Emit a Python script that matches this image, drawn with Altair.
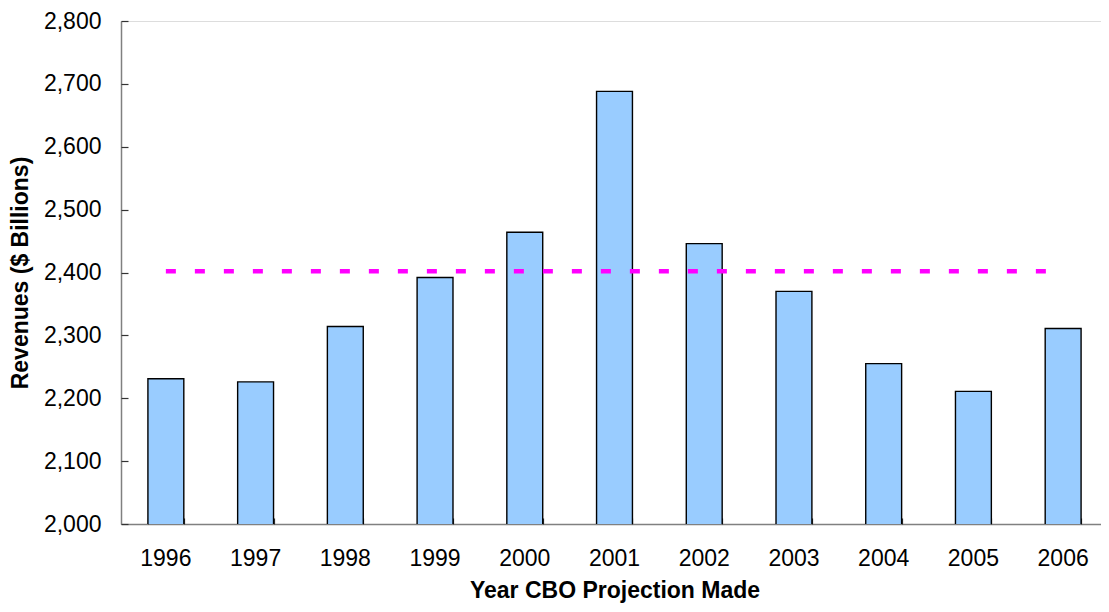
import altair as alt
import pandas as pd

years = ["1996", "1997", "1998", "1999", "2000", "2001", "2002", "2003", "2004", "2005", "2006"]
revenues = [2231, 2226, 2314, 2392, 2464, 2688, 2446, 2370, 2255, 2211, 2311]
avg_start = ["1996"]
avg_end = ["2006"]
avg_value = [2402]
y_ticks = [2000, 2100, 2200, 2300, 2400, 2500, 2600, 2700, 2800]

df = pd.DataFrame({"year": years, "revenue": revenues})
avg_df = pd.DataFrame({"start": avg_start, "end": avg_end, "value": avg_value})

W, H = 987, 503
FONT = "Liberation Sans"

x_scale = alt.Scale(domain=years, paddingInner=0.6, paddingOuter=0.3)
y_scale = alt.Scale(domain=[2000, 2800], nice=False, zero=False)

bars = alt.Chart(df).mark_bar(
    color="#99CCFF", stroke="#000000", strokeWidth=1.4, clip=True
).encode(
    x=alt.X("year:N", scale=x_scale, sort=years,
            axis=alt.Axis(orient="bottom", title="Year CBO Projection Made",
                          labelAngle=0, labelFontSize=23, labelFont=FONT, labelColor="#000",
                          labelPadding=23, ticks=False, tickSize=0,
                          domainColor="#808080", domainWidth=1.5,
                          titleFont=FONT, titleFontSize=23, titleFontWeight="bold",
                          titleColor="#000", titlePadding=9, grid=False)),
    y=alt.Y("revenue:Q", scale=y_scale,
            axis=alt.Axis(orient="left", title="Revenues ($ Billions)", values=y_ticks,
                          format=",.0f", labelFontSize=23, labelFont=FONT, labelColor="#000",
                          labelPadding=20, ticks=False, tickSize=0,
                          domainColor="#808080", domainWidth=1.5,
                          titleFont=FONT, titleFontSize=23, titleFontWeight="bold",
                          titleColor="#000", titlePadding=11, grid=False)),
)

tick_layer = alt.Chart(df).mark_bar(opacity=0, clip=True).encode(
    x=alt.X("year:N", scale=x_scale, sort=years,
            axis=alt.Axis(orient="top", offset=-H, labels=False, title=None, domain=False,
                          ticks=True, tickSize=6, tickColor="#333333", tickWidth=1.2,
                          tickBand="extent", grid=False)),
    y=alt.Y("revenue:Q", scale=y_scale,
            axis=alt.Axis(orient="right", offset=-W, labels=False, title=None, domain=False,
                          values=y_ticks, ticks=True, tickSize=7, tickColor="#333333",
                          tickWidth=1.2, grid=False)),
)

avg_rule = alt.Chart(avg_df).mark_rule(
    color="#FF00FF", strokeWidth=4.5, strokeDash=[10, 19]
).encode(
    x=alt.X("start:N", scale=x_scale, sort=years, axis=None),
    x2="end:N",
    y=alt.Y("value:Q", scale=y_scale, axis=None),
)

chart = alt.layer(bars, tick_layer, avg_rule).resolve_axis(
    x="independent", y="independent"
).properties(
    width=W, height=H,
    autosize=alt.AutoSizeParams(type="none"),
    padding={"left": 113, "top": 13, "right": -7, "bottom": 80},
).configure_axis(grid=False).configure_view(strokeWidth=0, stroke="transparent").configure(background="#ffffff")

chart.save("out.html", embed_options={"renderer": "svg", "actions": False})
